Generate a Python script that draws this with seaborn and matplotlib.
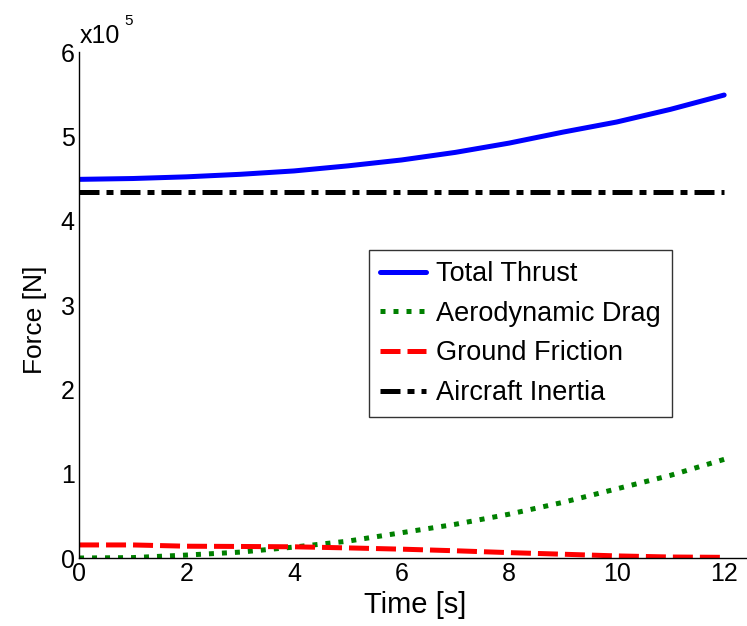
import seaborn as sns
import matplotlib.pyplot as plt
import numpy as np
import pandas as pd

# values, forces in units of 1e5 N
time_s = [0, 1, 2, 3, 4, 5, 6, 7, 8, 9, 10, 11, 12]
total_thrust = [4.49, 4.50, 4.52, 4.55, 4.59, 4.65, 4.72, 4.81, 4.92, 5.05, 5.17, 5.32, 5.49]
aero_drag = [0.0, 0.005, 0.035, 0.07, 0.13, 0.20, 0.30, 0.40, 0.52, 0.66, 0.82, 0.98, 1.17]
ground_friction = [0.155, 0.155, 0.14, 0.137, 0.133, 0.12, 0.105, 0.086, 0.064, 0.045, 0.025, 0.012, 0.008]
aircraft_inertia = [4.34] * 13

series_names = ["Total Thrust", "Aerodynamic Drag", "Ground Friction", "Aircraft Inertia"]
x_ticks = [0, 2, 4, 6, 8, 10, 12]
y_ticks = [0, 1, 2, 3, 4, 5, 6]

sns.set_style("white")
plt.rcParams["font.family"] = ["Liberation Sans", "DejaVu Sans"]
plt.rcParams["text.color"] = "black"
plt.rcParams["axes.labelcolor"] = "black"
plt.rcParams["xtick.color"] = "black"
plt.rcParams["ytick.color"] = "black"

fig = plt.figure(figsize=(7.47, 6.26), dpi=100)
ax = fig.add_axes([0.1058, 0.1086, 0.8996, 0.8083])

df = pd.DataFrame({"t": time_s, series_names[0]: total_thrust, series_names[1]: aero_drag,
                   series_names[2]: ground_friction, series_names[3]: aircraft_inertia})

lw = 3.6
styles = {
    "Total Thrust": ("#0000ff", "-"),
    "Aerodynamic Drag": ("#008000", (0, (1, 1.6))),
    "Ground Friction": ("#ff0000", (0, (4, 1.4))),
    "Aircraft Inertia": ("#000000", (0, (4, 1.4, 1.4, 1.4))),
}
for name in series_names:
    color, ls = styles[name]
    sns.lineplot(data=df, x="t", y=name, ax=ax, color=color, lw=lw, label=name)
    ax.lines[-1].set_linestyle(ls)

ax.set_xlim(0, 12.5)
ax.set_ylim(0, 6)
ax.set_xticks(x_ticks)
ax.set_yticks(y_ticks)
ax.tick_params(direction="in", length=5, width=1, labelsize=18, color="black", pad=3)
for side in ["top", "right"]:
    ax.spines[side].set_visible(False)
for side in ["left", "bottom"]:
    ax.spines[side].set_color("black")
    ax.spines[side].set_linewidth(1)

ax.set_xlabel("Time [s]", fontsize=21)
ax.set_ylabel("Force [N]", fontsize=19)
ax.xaxis.set_label_coords(0.5, -0.065)
ax.yaxis.set_label_coords(-0.048, 0.47)

# exponent label in MATLAB style
fig.text(80 / 747, 1 - 43 / 626, "x10", fontsize=18, va="baseline", ha="left")
fig.text(124 / 747, 1 - 25 / 626, "5", fontsize=11, va="baseline", ha="left")

leg = ax.legend(loc="upper left", bbox_to_anchor=(369 / 747, 1 - 250 / 626),
                bbox_transform=fig.transFigure, fontsize=19.5, frameon=True, fancybox=False,
                borderaxespad=0, handlelength=1.7, handletextpad=0.34, labelspacing=0.5,
                borderpad=0.42)
leg.get_frame().set_edgecolor("black")
leg.get_frame().set_linewidth(1)

fig.savefig("out.png", dpi=100)
